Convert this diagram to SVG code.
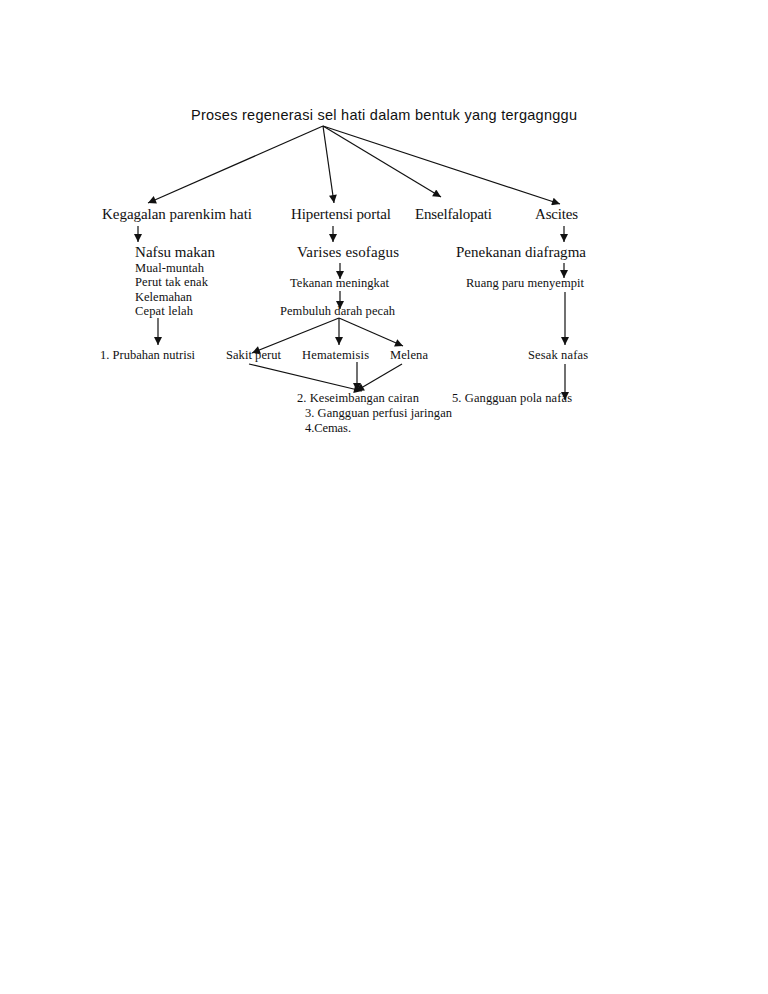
<svg xmlns="http://www.w3.org/2000/svg" width="768" height="994" viewBox="0 0 768 994">
<style>
.t{font-family:"Liberation Sans",Arial,sans-serif;font-size:14.5px;fill:#111}
.m{font-family:"Liberation Serif","Times New Roman",serif;font-size:15px;fill:#111}
.s{font-family:"Liberation Serif","Times New Roman",serif;font-size:12.5px;fill:#111}
.c line{stroke:#111;stroke-width:1.2;marker-end:url(#ah)}
</style>
<defs>
<marker id="ah" viewBox="0 0 10 10" refX="10" refY="5" markerWidth="10" markerHeight="8" markerUnits="userSpaceOnUse" orient="auto">
<path d="M0,0 L10,5 L0,10 z" fill="#111"/>
</marker>
</defs>
<rect width="768" height="994" fill="#fff"/>
<g id="title"><text class="t" x="191" y="120" textLength="386">Proses regenerasi sel hati dalam bentuk yang tergagnggu</text></g>
<g id="kegagalan"><text class="m" x="102" y="219" textLength="150">Kegagalan parenkim hati</text></g>
<g id="hipertensi"><text class="m" x="291" y="219" textLength="100">Hipertensi portal</text></g>
<g id="enselfalopati"><text class="m" x="415" y="219" textLength="77">Enselfalopati</text></g>
<g id="ascites"><text class="m" x="535" y="219" textLength="43">Ascites</text></g>
<g id="nafsu"><text class="m" x="135" y="257" textLength="80">Nafsu makan</text>
<text class="s" x="135" y="272" textLength="69">Mual-muntah</text>
<text class="s" x="135" y="286" textLength="73">Perut tak enak</text>
<text class="s" x="135" y="301" textLength="57">Kelemahan</text>
<text class="s" x="135" y="315" textLength="58">Cepat lelah</text></g>
<g id="prubahan"><text class="s" x="100" y="359" textLength="95">1. Prubahan nutrisi</text></g>
<g id="varises"><text class="m" x="297" y="257" textLength="102">Varises esofagus</text></g>
<g id="tekanan"><text class="s" x="290" y="287" textLength="99">Tekanan meningkat</text></g>
<g id="pembuluh"><text class="s" x="280" y="315" textLength="115">Pembuluh darah pecah</text></g>
<g id="sakit"><text class="s" x="226" y="359" textLength="55">Sakit perut</text></g>
<g id="hematemisis"><text class="s" x="302" y="359" textLength="67">Hematemisis</text></g>
<g id="melena"><text class="s" x="390" y="359" textLength="38">Melena</text></g>
<g id="dx"><text class="s" x="297" y="402" textLength="122">2. Keseimbangan cairan</text>
<text class="s" x="305" y="417" textLength="147">3. Gangguan perfusi jaringan</text>
<text class="s" x="305" y="432" textLength="46">4.Cemas.</text></g>
<g id="penekanan"><text class="m" x="456" y="257" textLength="130">Penekanan diafragma</text></g>
<g id="ruang"><text class="s" x="466" y="287" textLength="118">Ruang paru menyempit</text></g>
<g id="sesak"><text class="s" x="528" y="359" textLength="60">Sesak nafas</text></g>
<g id="pola"><text class="s" x="452" y="402" textLength="120">5. Gangguan pola nafas</text></g>
<g id="connectors" class="c">
<line x1="323" y1="126" x2="148" y2="203"/>
<line x1="323" y1="126" x2="334" y2="203"/>
<line x1="323" y1="126" x2="441" y2="197"/>
<line x1="323" y1="126" x2="560" y2="204"/>
<line x1="138" y1="226" x2="138" y2="242"/>
<line x1="333" y1="226" x2="333" y2="242"/>
<line x1="564" y1="226" x2="564" y2="242"/>
<line x1="158" y1="318" x2="158" y2="345"/>
<line x1="340" y1="263" x2="340" y2="279"/>
<line x1="340" y1="291" x2="340" y2="309"/>
<line x1="339" y1="318" x2="252" y2="353"/>
<line x1="339" y1="318" x2="339" y2="345"/>
<line x1="339" y1="318" x2="403" y2="346"/>
<line x1="249" y1="364" x2="362" y2="391"/>
<line x1="357" y1="362" x2="357" y2="391"/>
<line x1="402" y1="364" x2="356" y2="391"/>
<line x1="564" y1="263" x2="564" y2="278"/>
<line x1="565" y1="292" x2="565" y2="345"/>
<line x1="565" y1="364" x2="565" y2="400"/>
</g>
</svg>
